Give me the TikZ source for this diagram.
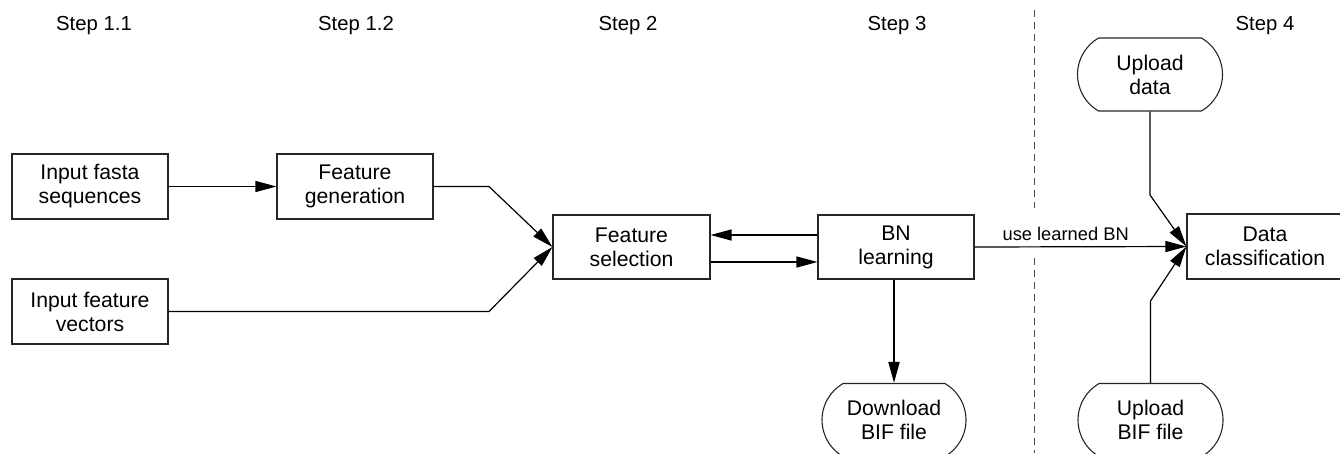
\documentclass[tikz,border=0pt]{standalone}
\usepackage{fontspec}
\setmainfont{Liberation Sans}
\usetikzlibrary{arrows.meta,shapes.misc}
\begin{document}
\begin{tikzpicture}[x=1pt,y=-1pt,
  every node/.style={font=\fontsize{21.2}{24}\selectfont, align=center, inner sep=0pt},
  box/.style={draw=black!85, line width=1.1pt, minimum width=156pt, minimum height=65pt},
  term/.style={draw=black!85, line width=1.1pt, rounded rectangle, rounded rectangle arc length=120, minimum width=145pt, minimum height=73pt},
  arr/.style={line width=1.2pt, -{Triangle[length=21pt,width=11pt]}},
  steplabel/.style={font=\fontsize{20.3}{24}\selectfont},
  lbl/.style={font=\fontsize{18.3}{20}\selectfont}]
\useasboundingbox (0,0) rectangle (1340,453);
% step labels
\node[steplabel] (s11) at (94,26) {Step 1.1};
\node[steplabel] (s12) at (356,26) {Step 1.2};
\node[steplabel] (s2) at (628,26) {Step 2};
\node[steplabel] (s3) at (897,26) {Step 3};
\node[steplabel] (s4) at (1265,26) {Step 4};
% separator (interrupted around the label)
\coordinate (dtop) at (1034,10);
\coordinate (dgap1) at (1034,208);
\coordinate (dgap2) at (1034,258);
\coordinate (dbot) at (1034,453);
\draw[black!70, line width=0.8pt, dash pattern=on 7pt off 5pt] (dtop) -- (dgap1);
\draw[black!70, line width=0.8pt, dash pattern=on 7pt off 5pt] (dgap2) -- (dbot);
% boxes
\node[box] (fasta) at (90,186.5) {Input fasta\\sequences};
\node[box] (gen) at (355,186.5) {Feature\\generation};
\node[box] (vec) at (90,311.5) {Input feature\\vectors};
\node[box, minimum width=157pt, minimum height=64pt] (fs) at (631.5,247) {Feature\\selection};
\node[box, minimum height=64pt] (bn) at (896,247) {BN\\learning};
\node[box] (dc) at (1265,246.5) {Data\\classification};
\node[term] (up) at (1150,74.5) {Upload\\data};
\node[term, minimum width=144pt] (down) at (894,420) {Download\\BIF file};
\node[term] (upbif) at (1150.5,420) {Upload\\BIF file};
% connectors
\draw[arr] (fasta.east) -- (gen.west);
\coordinate (g1) at (489,186.5);
\draw[arr] (gen.east) -- (g1) -- (fs.west);
\coordinate (v1) at (489,311.5);
\draw[arr] (vec.east) -- (v1) -- (fs.west);
\draw[arr] ([yshift=12pt]bn.west) -- ([yshift=12pt]fs.east);
\draw[arr] ([yshift=-15pt]fs.east) -- ([yshift=-15pt]bn.west);
\draw[arr] (bn.east) -- node[lbl, pos=0.43, above=6pt] (ulbn) {use learned BN} (dc.west);
\draw[arr, line width=2pt] (bn.south -| down.north) -- (down.north);
\coordinate (u1) at (1150,195);
\draw[arr] (up.south) -- (u1) -- (dc.west);
\coordinate (b1) at (1150.5,301);
\draw[arr] (upbif.north) -- (b1) -- (dc.west);
\end{tikzpicture}
\end{document}
